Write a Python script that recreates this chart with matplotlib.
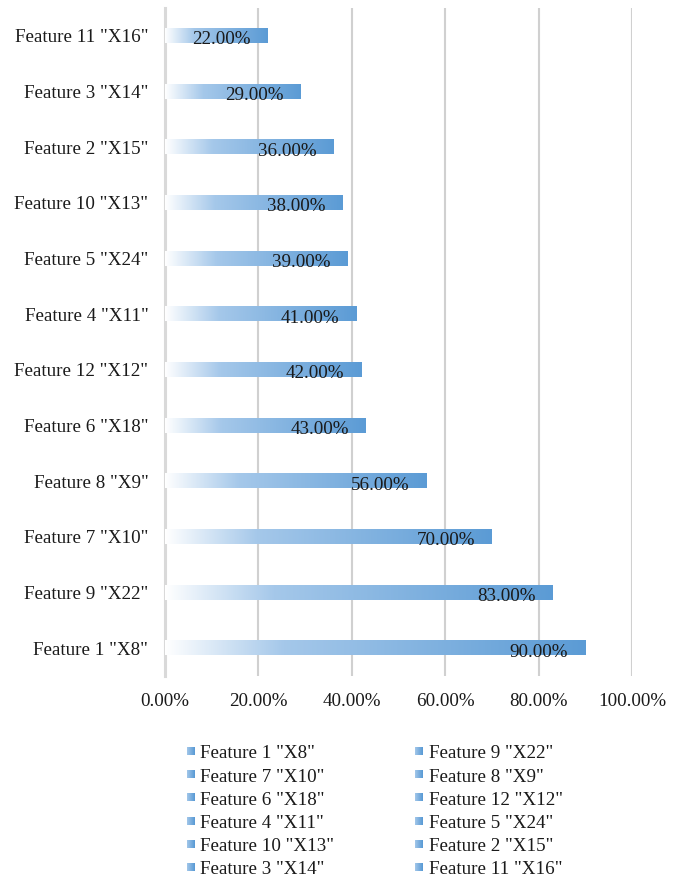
import numpy as np
import matplotlib
matplotlib.use("Agg")
import matplotlib.pyplot as plt
from matplotlib.colors import LinearSegmentedColormap
from matplotlib.legend_handler import HandlerBase
from matplotlib.patches import Rectangle

# Feature importance, ordered from bottom bar to top bar
features = ['Feature 1 "X8"', 'Feature 9 "X22"', 'Feature 7 "X10"', 'Feature 8 "X9"',
            'Feature 6 "X18"', 'Feature 12 "X12"', 'Feature 4 "X11"', 'Feature 5 "X24"',
            'Feature 10 "X13"', 'Feature 2 "X15"', 'Feature 3 "X14"', 'Feature 11 "X16"']
values = [90, 83, 70, 56, 43, 42, 41, 39, 38, 36, 29, 22]
xticks = [0, 20, 40, 60, 80, 100]
xtick_labels = ["0.00%", "20.00%", "40.00%", "60.00%", "80.00%", "100.00%"]

FONT = "Liberation Serif"
FS = 13.7
plt.rcParams["font.family"] = [FONT, "DejaVu Serif"]

grad = LinearSegmentedColormap.from_list(
    "bar_grad", [(0.0, "#ffffff"), (0.28, "#a5c8ea"), (1.0, "#5b9bd5")])

fig = plt.figure(figsize=(6.83, 8.8), dpi=100)
ax = fig.add_axes([165 / 683, 1 - 676 / 880, (632 - 165) / 683, (676 - 8) / 880])

bar_h = 0.26
ramp = np.linspace(0, 1, 256).reshape(1, -1)
for i, v in enumerate(values):
    ax.imshow(ramp, cmap=grad, aspect="auto", interpolation="bilinear",
              extent=(0, v, i - bar_h / 2, i + bar_h / 2), zorder=3)
    ax.annotate(f"{v:.2f}%", xy=(v, i), xytext=(-12.2, -2.8), textcoords="offset points",
                ha="right", va="center", fontsize=FS, color="#1a1a1a", zorder=4)

ax.set_xlim(0, 100)
ax.set_ylim(-0.5, len(values) - 0.5)
ax.set_xticks(xticks)
ax.set_xticklabels(xtick_labels, fontsize=FS, color="#1a1a1a")
ax.set_yticks(range(len(values)))
ax.set_yticklabels(features, fontsize=FS, color="#1a1a1a")
ax.tick_params(axis="x", length=0, pad=12)
ax.tick_params(axis="y", length=0, pad=12)
ax.grid(axis="x", color="#d0d0d0", linewidth=1.5, zorder=0)
ax.set_axisbelow(True)
for side in ["top", "right", "bottom"]:
    ax.spines[side].set_visible(False)
ax.spines["left"].set_color("#d9d9d9")
ax.spines["left"].set_linewidth(2.2)


class GradientSquare(HandlerBase):
    def create_artists(self, legend, orig_handle, xdescent, ydescent,
                       width, height, fontsize, trans):
        side = 8 * 72 / 100
        y0 = -ydescent + (height - side) / 2 + 0.5
        x0 = -xdescent + width - side
        n = 8
        arts = []
        for k in range(n):
            c = grad(0.35 + 0.65 * k / (n - 1))
            arts.append(Rectangle((x0 + side * k / n, y0), side / n + 0.05, side,
                                  facecolor=c, edgecolor="none", transform=trans))
        return arts


handles = [Rectangle((0, 0), 1, 1) for _ in features]
order = list(range(0, 12, 2)) + list(range(1, 12, 2))
fig.legend([handles[k] for k in order], [features[k] for k in order],
           handler_map={Rectangle: GradientSquare()},
           loc="upper left", bbox_to_anchor=(186 / 683, 1 - 745 / 880),
           ncol=2, frameon=False, fontsize=FS, borderpad=0, borderaxespad=0,
           handlelength=0.45, handletextpad=0.3, columnspacing=4.23,
           labelspacing=0.31, labelcolor="#1a1a1a")

fig.savefig("out.png", dpi=100)
